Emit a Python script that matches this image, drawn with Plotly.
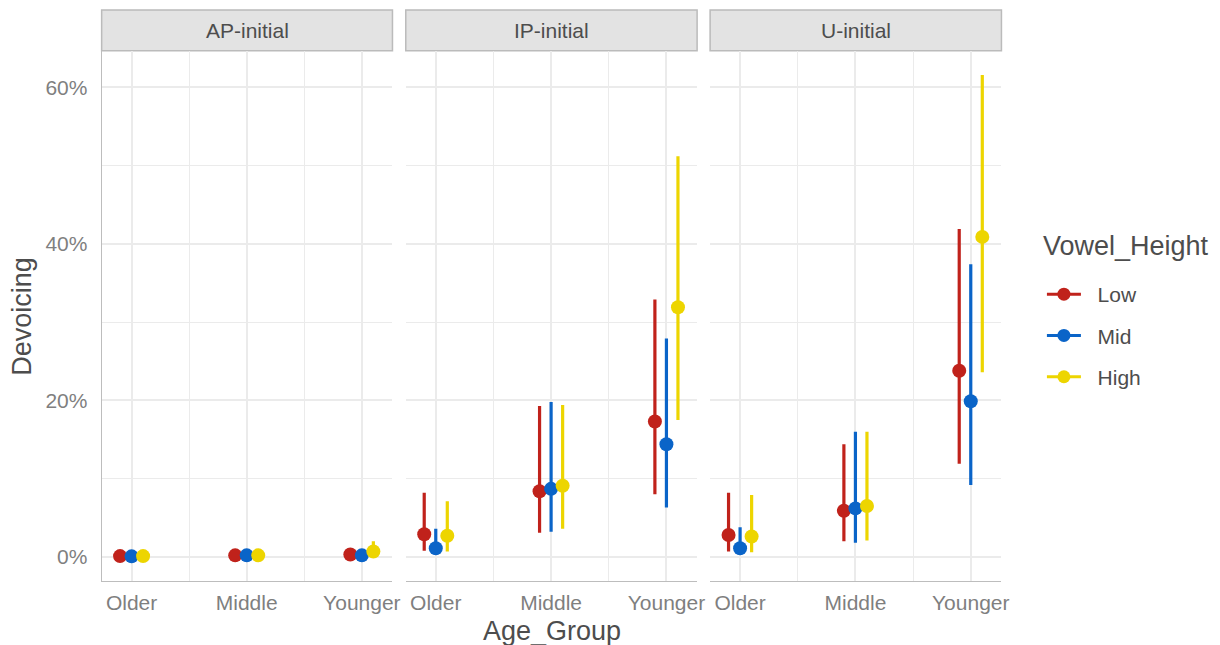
import plotly.graph_objects as go

# ---------------- data ----------------
panels = ["AP-initial", "IP-initial", "U-initial"]
age_groups = ["Older", "Middle", "Younger"]
heights = ["Low", "Mid", "High"]
colors = {"Low": "#C0221B", "Mid": "#0A64C8", "High": "#EDD500"}

# estimates (fraction), per panel -> per vowel height -> per age group
ap_est = {"Low": [0.001, 0.002, 0.003], "Mid": [0.0007, 0.002, 0.002], "High": [0.001, 0.002, 0.007]}
ap_lo  = {"Low": [0.0003, 0.001, 0.001], "Mid": [0.0002, 0.001, 0.001], "High": [0.0003, 0.001, 0.002]}
ap_hi  = {"Low": [0.003, 0.004, 0.006], "Mid": [0.002, 0.004, 0.005], "High": [0.003, 0.004, 0.020]}

ip_est = {"Low": [0.029, 0.084, 0.173], "Mid": [0.011, 0.087, 0.144], "High": [0.027, 0.091, 0.319]}
ip_lo  = {"Low": [0.008, 0.031, 0.080], "Mid": [0.003, 0.032, 0.063], "High": [0.007, 0.036, 0.175]}
ip_hi  = {"Low": [0.082, 0.193, 0.329], "Mid": [0.036, 0.198, 0.279], "High": [0.071, 0.194, 0.512]}

u_est = {"Low": [0.028, 0.059, 0.238], "Mid": [0.011, 0.062, 0.199], "High": [0.026, 0.065, 0.409]}
u_lo  = {"Low": [0.007, 0.020, 0.119], "Mid": [0.003, 0.018, 0.092], "High": [0.006, 0.021, 0.236]}
u_hi  = {"Low": [0.082, 0.144, 0.419], "Mid": [0.038, 0.160, 0.374], "High": [0.079, 0.160, 0.616]}

panel_data = [(ap_est, ap_lo, ap_hi), (ip_est, ip_lo, ip_hi), (u_est, u_lo, u_hi)]
dodge = {"Low": -0.1, "Mid": 0.0, "High": 0.1}

# ---------------- layout geometry (screen pixels of the reference) ----------------
W, H = 1220, 645
XS = 1 / 0.994  # small horizontal compensation observed in the rendered page
panel_x = [(101.7, 392.7), (406.0, 697.5), (710.5, 1002.0)]
plot_top, plot_bot = 50.7, 581.0
strip_top = 10.0

def px(x):
    return min(x * XS / W, 1.0)

def py(y):
    return 1 - y / H

fig = go.Figure()

for i, (est, lo, hi) in enumerate(panel_data):
    xa = "x" if i == 0 else f"x{i+1}"
    ya = "y" if i == 0 else f"y{i+1}"
    for h in heights:
        xs = [k + 1 + dodge[h] for k in range(len(age_groups))]
        fig.add_trace(go.Scatter(
            x=xs, y=est[h], mode="markers",
            marker=dict(color=colors[h], size=14, line=dict(width=0)),
            error_y=dict(type="data", symmetric=False,
                         array=[b - a for a, b in zip(est[h], hi[h])],
                         arrayminus=[a - b for a, b in zip(est[h], lo[h])],
                         color=colors[h], thickness=3.2, width=0),
            xaxis=xa, yaxis=ya, showlegend=False, name=h,
            hovertemplate=f"{panels[i]}<br>{h}: %{{y:.1%}}<extra></extra>",
        ))

# legend-only traces (non-breaking spaces widen the gap between key and label)
for h in heights:
    fig.add_trace(go.Scatter(
        x=[None], y=[None], mode="lines+markers", name="\u00a0\u00a0" + h,
        line=dict(color=colors[h], width=3),
        marker=dict(color=colors[h], size=13),
        legendgroup=h, showlegend=True,
    ))

grid_col = "#EBEBEB"
axis_col = "#BDBDBD"
tick_font = dict(family="Liberation Sans, Arial, sans-serif", size=21, color="#7F7F7F")

layout = dict(
    width=W, height=H,
    margin=dict(l=0, r=0, t=0, b=0),
    paper_bgcolor="white", plot_bgcolor="white",
    font=dict(family="Liberation Sans, Arial, sans-serif", color="#4D4D4D"),
    legend=dict(
        x=px(1042.5), y=py(274), xanchor="left", yanchor="top",
        font=dict(size=21, color="#4D4D4D"),
        tracegroupgap=11, itemwidth=34, bgcolor="rgba(0,0,0,0)",
    ),
)

for i in range(3):
    xn = "xaxis" if i == 0 else f"xaxis{i+1}"
    yn = "yaxis" if i == 0 else f"yaxis{i+1}"
    x0, x1 = panel_x[i]
    layout[xn] = dict(
        domain=[px(x0), px(x1)], range=[0.74, 3.266],
        tickvals=[1, 2, 3], ticktext=age_groups, tickfont=tick_font,
        showgrid=True, gridcolor=grid_col, gridwidth=2,
        minor=dict(dtick=0.5, tick0=0.5, showgrid=True, gridcolor=grid_col, gridwidth=1),
        zeroline=False, showline=True, linecolor=axis_col, linewidth=1,
        ticks="", ticklabelstandoff=3,
        anchor="y" if i == 0 else f"y{i+1}", fixedrange=True,
    )
    layout[yn] = dict(
        domain=[py(plot_bot), py(plot_top)], range=[-0.0308, 0.647],
        tickvals=[0, 0.2, 0.4, 0.6], tickformat=".0%", tickfont=tick_font,
        showticklabels=(i == 0),
        showgrid=True, gridcolor=grid_col, gridwidth=2,
        minor=dict(dtick=0.1, tick0=0, showgrid=True, gridcolor=grid_col, gridwidth=1),
        zeroline=False, showline=(i == 0), linecolor=axis_col, linewidth=1,
        ticks="", ticklabelstandoff=9,
        anchor="x" if i == 0 else f"x{i+1}", fixedrange=True,
    )
    if i > 0:
        layout[yn]["matches"] = "y"

fig.update_layout(**layout)

# facet strips
shapes = []
annotations = []
for i, name in enumerate(panels):
    x0, x1 = panel_x[i]
    shapes.append(dict(type="rect", xref="paper", yref="paper",
                       x0=px(x0), x1=px(x1), y0=py(plot_top), y1=py(strip_top),
                       fillcolor="#E3E3E3", line=dict(color="#BBBBBB", width=1.5),
                       layer="below"))
    annotations.append(dict(text=name, xref="paper", yref="paper",
                            x=px((x0 + x1) / 2), y=py((strip_top + plot_top) / 2),
                            xanchor="center", yanchor="middle", showarrow=False,
                            font=dict(size=21, color="#4D4D4D")))

# axis titles
annotations.append(dict(text="Age_Group", xref="paper", yref="paper",
                        x=px((panel_x[0][0] + panel_x[2][1]) / 2), y=py(631),
                        xanchor="center", yanchor="middle", showarrow=False,
                        font=dict(size=27, color="#4D4D4D")))
annotations.append(dict(text="Devoicing", xref="paper", yref="paper",
                        x=px(22), y=py((plot_top + plot_bot) / 2), textangle=-90,
                        xanchor="center", yanchor="middle", showarrow=False,
                        font=dict(size=27, color="#4D4D4D")))
# legend title
annotations.append(dict(text="Vowel_Height", xref="paper", yref="paper",
                        x=px(1042), y=py(246), xanchor="left", yanchor="middle",
                        showarrow=False, font=dict(size=27, color="#4D4D4D")))

fig.update_layout(shapes=shapes, annotations=annotations)

# remove the default page margin so the figure sits exactly in the 1220x645 window
fig.write_html("out.html",
               config={"displayModeBar": False},
               post_script="document.body.style.margin='0';document.body.style.overflow='hidden';")
